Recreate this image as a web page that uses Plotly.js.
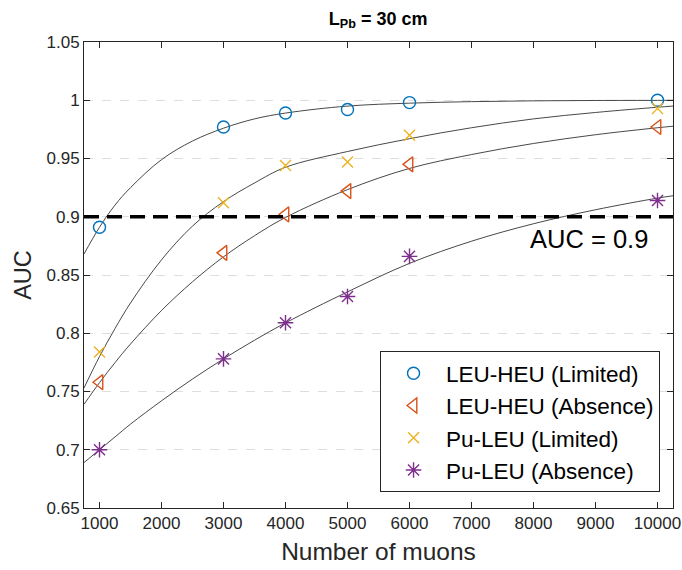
<!DOCTYPE html>
<html>
<head>
<meta charset="utf-8">
<script src="https://cdn.plot.ly/plotly-3.0.1.min.js"></script>
<style>html,body{margin:0;padding:0;background:#fff;}#chart{width:682px;height:570px;}</style>
</head>
<body>
<div id="chart"></div>
<script>
// Measured points
const muons = [1000, 3000, 4000, 5000, 6000, 10000];
const leuHeuLimited = [0.891, 0.977, 0.989, 0.992, 0.998, 1.000];
const leuHeuAbsence = [0.758, 0.869, 0.902, 0.922, 0.945, 0.977];
const puLeuLimited  = [0.784, 0.912, 0.944, 0.947, 0.970, 0.993];
const puLeuAbsence  = [0.700, 0.778, 0.809, 0.8315, 0.866, 0.914];

// Fitted curves
const fitX = [750, 1000, 1250, 1500, 2000, 2500, 3000, 3500, 4000, 5000, 6000, 7000, 8000, 9000, 10000, 10250];
const fitLeuHeuLimited = [0.868, 0.891, 0.910, 0.925, 0.949, 0.965, 0.976, 0.984, 0.989, 0.995, 0.9975, 0.9988, 0.9995, 0.9998, 0.9999, 1.0];
const fitLeuHeuAbsence = [0.739, 0.7576, 0.7748, 0.7908, 0.8195, 0.8442, 0.8656, 0.8837, 0.8994, 0.9233, 0.9415, 0.9534, 0.9629, 0.9704, 0.9764, 0.9777];
const fitPuLeuLimited  = [0.753, 0.780, 0.804, 0.826, 0.863, 0.892, 0.913, 0.929, 0.9425, 0.956, 0.967, 0.9764, 0.984, 0.9895, 0.994, 0.995];
const fitPuLeuAbsence  = [0.689, 0.700, 0.711, 0.722, 0.742, 0.7607, 0.778, 0.794, 0.8089, 0.8355, 0.860, 0.879, 0.894, 0.906, 0.916, 0.918];

const seriesNames = ['LEU-HEU (Limited)', 'LEU-HEU (Absence)', 'Pu-LEU (Limited)', 'Pu-LEU (Absence)'];
const xTickVals = [1000, 2000, 3000, 4000, 5000, 6000, 7000, 8000, 9000, 10000];
const xTickText = ['1000', '2000', '3000', '4000', '5000', '6000', '7000', '8000', '9000', '10000'];
const yTickVals = [0.65, 0.7, 0.75, 0.8, 0.85, 0.9, 0.95, 1, 1.05];
const yTickText = ['0.65', '0.7', '0.75', '0.8', '0.85', '0.9', '0.95', '1', '1.05'];
const threshold = 0.9;
const thresholdLabel = 'AUC = 0.9';

const FONT = 'Liberation Sans, Arial, sans-serif';
const AX = '#262626';

function fit(y) {
  return {x: fitX, y: y, mode: 'lines', line: {color: '#333333', width: 0.9, shape: 'spline'},
          showlegend: false, hoverinfo: 'skip'};
}

const traces = [
  fit(fitLeuHeuLimited), fit(fitLeuHeuAbsence), fit(fitPuLeuLimited), fit(fitPuLeuAbsence),
  {x: muons, y: leuHeuLimited, mode: 'markers', name: seriesNames[0],
   marker: {symbol: 'circle-open', size: 12, color: '#0072BD', line: {width: 1.4, color: '#0072BD'}}},
  {x: muons, y: leuHeuAbsence, mode: 'markers', name: seriesNames[1],
   marker: {symbol: 'triangle-left-open', size: 13, color: '#D95319', line: {width: 1.4, color: '#D95319'}}},
  {x: muons, y: puLeuLimited, mode: 'markers', name: seriesNames[2],
   marker: {symbol: 'x-thin-open', size: 11, color: '#EDB120', line: {width: 1.4, color: '#EDB120'}}},
  {x: muons, y: puLeuAbsence, mode: 'markers', name: seriesNames[3],
   marker: {symbol: 'asterisk-open', size: 13, color: '#7E2F8E', line: {width: 1.4, color: '#7E2F8E'}}}
];

const layout = {
  width: 682, height: 570,
  margin: {l: 84, r: 9, t: 42, b: 62},
  paper_bgcolor: '#ffffff', plot_bgcolor: '#ffffff',
  font: {family: FONT, color: AX},
  title: {text: '<b>L<sub>Pb</sub> = 30 cm</b>', font: {family: FONT, size: 18, color: '#000'},
          x: 0.5545, xanchor: 'center', y: 0.968, yanchor: 'middle'},
  xaxis: {range: [750, 10250], tickvals: xTickVals, ticktext: xTickText,
          showline: true, mirror: 'ticks', linecolor: AX, linewidth: 1,
          ticks: 'inside', ticklen: 6, tickcolor: AX, showgrid: false, zeroline: false,
          tickfont: {family: FONT, size: 17, color: AX},
          title: {text: 'Number of muons', font: {family: FONT, size: 24.5, color: AX}, standoff: 10}},
  yaxis: {range: [0.65, 1.05], tickvals: yTickVals, ticktext: yTickText,
          showline: true, mirror: 'ticks', linecolor: AX, linewidth: 1,
          ticks: 'inside', ticklen: 6, tickcolor: AX, zeroline: false,
          showgrid: true, gridcolor: '#dedede', griddash: 'dash', gridwidth: 1,
          tickfont: {family: FONT, size: 17, color: AX},
          title: {text: 'AUC', font: {family: FONT, size: 23.5, color: AX}, standoff: 8}},
  shapes: [{type: 'line', xref: 'paper', x0: 0, x1: 1, yref: 'y', y0: threshold, y1: threshold,
            line: {color: '#000', width: 3.5, dash: '15px,8px'}}],
  annotations: [{x: 8900, y: 0.881, xref: 'x', yref: 'y', text: thresholdLabel, showarrow: false,
                 font: {family: FONT, size: 25.5, color: '#000'}}],
  legend: {x: 0.978, y: 0.034, xanchor: 'right', yanchor: 'bottom',
           bgcolor: '#ffffff', bordercolor: AX, borderwidth: 1,
           font: {family: FONT, size: 22.5, color: '#000'}, itemwidth: 55}
};

Plotly.newPlot('chart', traces, layout, {displayModeBar: false, staticPlot: true});
</script>
</body>
</html>
